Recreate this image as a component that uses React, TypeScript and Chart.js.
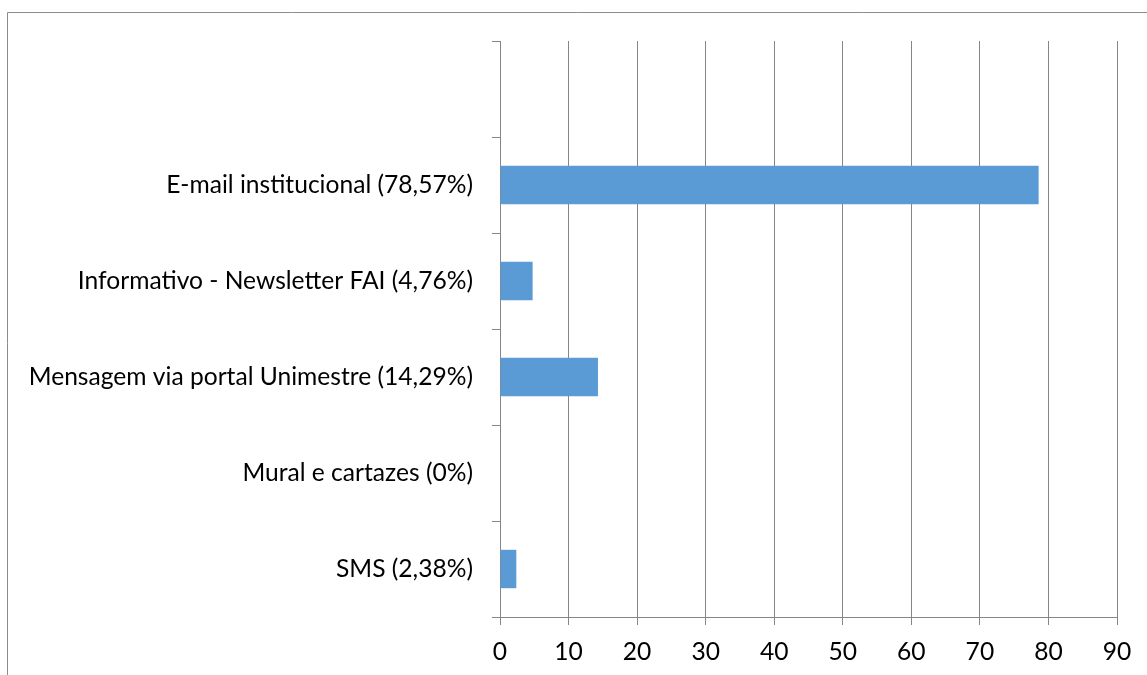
import React, { useEffect, useRef } from "react";
import { Chart, registerables } from "chart.js";

Chart.register(...registerables);

const categories = [
  "",
  "E-mail institucional (78,57%)",
  "Informativo - Newsletter FAI (4,76%)",
  "Mensagem via portal Unimestre (14,29%)",
  "Mural e cartazes (0%)",
  "SMS (2,38%)",
];
const values: (number | null)[] = [null, 78.57, 4.76, 14.29, 0, 2.38];
const xMin = 0;
const xMax = 90;
const xStep = 10;

const FONT = "Lato, 'Liberation Sans', sans-serif";

const framePlugin = {
  id: "frame",
  beforeDraw(chart: any) {
    const ctx = chart.ctx;
    ctx.save();
    ctx.strokeStyle = "#8c8c8c";
    ctx.lineWidth = 1;
    ctx.beginPath();
    ctx.moveTo(7.5, 675);
    ctx.lineTo(7.5, 12.5);
    ctx.lineTo(1147, 12.5);
    ctx.stroke();
    ctx.restore();
  },
};

export default function App() {
  const ref = useRef<HTMLCanvasElement | null>(null);
  useEffect(() => {
    if (!ref.current) return;
    const chart = new Chart(ref.current, {
      type: "bar",
      data: {
        labels: categories,
        datasets: [
          {
            data: values,
            backgroundColor: "#5b9bd5",
            borderWidth: 0,
            barPercentage: 0.4,
            categoryPercentage: 1,
          },
        ],
      },
      options: {
        indexAxis: "y",
        animation: false,
        responsive: false,
        maintainAspectRatio: false,
        layout: { padding: { top: 41, right: 30, left: 0, bottom: 0 } },
        plugins: { legend: { display: false }, tooltip: { enabled: false } },
        scales: {
          x: {
            min: xMin,
            max: xMax,
            ticks: {
              stepSize: xStep,
              color: "#000",
              font: { family: FONT, size: 24.6 },
              padding: 12,
            },
            grid: {
              color: "#868686",
              lineWidth: 1,
              tickLength: 8,
              drawOnChartArea: true,
            },
            border: { display: true, color: "#868686" },
            afterFit(scale: any) {
              scale.height = 58;
            },
          },
          y: {
            offset: true,
            ticks: {
              color: "#000",
              font: { family: FONT, size: 24.6 },
              padding: 19,
              autoSkip: false,
            },
            grid: {
              offset: true,
              color: "#868686",
              drawOnChartArea: false,
              drawTicks: true,
              tickLength: 8,
            },
            border: { display: true, color: "#868686" },
            afterFit(scale: any) {
              scale.width = 500;
            },
          },
        },
      },
      plugins: [framePlugin],
    });
    return () => chart.destroy();
  }, []);
  return (
    <div style={{ position: "fixed", left: 0, top: 0, width: 1147, height: 675, background: "#fff" }}>
      <canvas ref={ref} width={1147} height={675} style={{ width: 1147, height: 675 }} />
    </div>
  );
}
